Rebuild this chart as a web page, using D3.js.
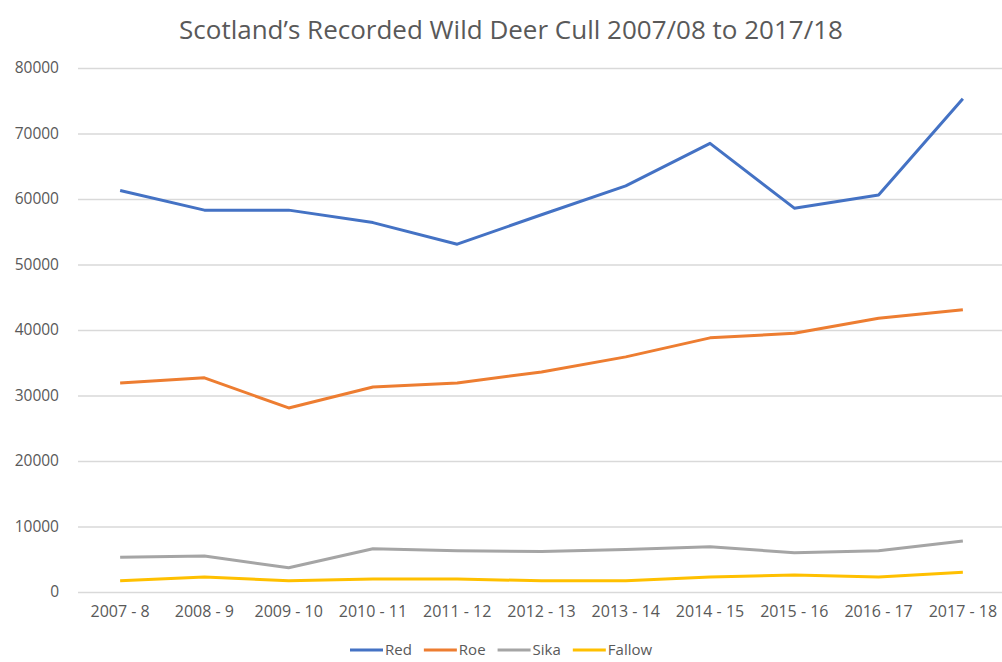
<!DOCTYPE html>
<html>
<head>
<meta charset="utf-8">
<script src="https://cdn.jsdelivr.net/npm/d3@7"></script>
<style>
  body { margin: 0; background: #fff; }
  text { font-family: "Open Sans", sans-serif; fill: #595959; }
</style>
</head>
<body>
<svg id="chart" width="1002" height="662"></svg>
<script>
const seasons = ["2007 - 8", "2008 - 9", "2009 - 10", "2010 - 11", "2011 - 12", "2012 - 13",
                 "2013 - 14", "2014 - 15", "2015 - 16", "2016 - 17", "2017 - 18"];
const red    = [61300, 58300, 58300, 56400, 53100, 57600, 62000, 68500, 58600, 60600, 75300];
const roe    = [31900, 32700, 28100, 31300, 31900, 33600, 35900, 38800, 39500, 41800, 43100];
const sika   = [5300, 5500, 3700, 6600, 6300, 6200, 6500, 6900, 6000, 6300, 7800];
const fallow = [1700, 2300, 1700, 2000, 2000, 1700, 1700, 2300, 2600, 2300, 3000];
const yTicks = [0, 10000, 20000, 30000, 40000, 50000, 60000, 70000, 80000];

const series = [
  { name: "Red", values: red, color: "#4472C4" },
  { name: "Roe", values: roe, color: "#ED7D31" },
  { name: "Sika", values: sika, color: "#A5A5A5" },
  { name: "Fallow", values: fallow, color: "#FFC000" }
];

const svg = d3.select("#chart");
const margin = { top: 68, left: 78, right: -3, bottom: 70 };
const width = 1002, height = 662;

const x = d3.scaleBand().domain(seasons).range([margin.left, width - margin.right]);
const y = d3.scaleLinear().domain([0, 80000]).range([592, margin.top]);

// title
svg.append("text")
  .attr("x", 511).attr("y", 39)
  .attr("text-anchor", "middle")
  .style("font-size", "26px")
  .text("Scotland\u2019s Recorded Wild Deer Cull 2007/08 to 2017/18");

// gridlines
const yAxis = d3.axisLeft(y).tickValues(yTicks).tickSize(-(x.range()[1] - x.range()[0])).tickPadding(19)
  .tickFormat(d3.format("d"));
const gy = svg.append("g").attr("transform", `translate(${margin.left},0)`).call(yAxis);
gy.select(".domain").remove();
gy.selectAll(".tick line").attr("stroke", "#d9d9d9").attr("stroke-width", 1.3);
gy.selectAll(".tick text").style("font-size", "15.5px").attr("fill", "#595959");

// x axis labels
const xAxis = d3.axisBottom(x).tickSize(0).tickPadding(14);
const gx = svg.append("g").attr("transform", `translate(0,${y(0)})`).call(xAxis);
gx.select(".domain").remove();
gx.selectAll(".tick text").style("font-size", "16px").attr("fill", "#595959");

// lines
const line = d3.line()
  .x((d, i) => x(seasons[i]) + x.bandwidth() / 2)
  .y(d => y(d));

svg.append("g").selectAll("path")
  .data(series)
  .join("path")
  .attr("fill", "none")
  .attr("stroke", d => d.color)
  .attr("stroke-width", 3)
  .attr("stroke-linejoin", "round")
  .attr("d", d => line(d.values));

// legend
const legend = svg.append("g").attr("transform", "translate(0,650)");
let lx = 350;
series.forEach(s => {
  const g = legend.append("g");
  g.append("line").attr("x1", lx).attr("x2", lx + 33).attr("y1", 0).attr("y2", 0)
    .attr("stroke", s.color).attr("stroke-width", 3);
  const t = g.append("text").attr("x", lx + 35).attr("y", 5)
    .style("font-size", "15px").text(s.name);
  lx += 35 + t.node().getComputedTextLength() + 12;
});
</script>
</body>
</html>
